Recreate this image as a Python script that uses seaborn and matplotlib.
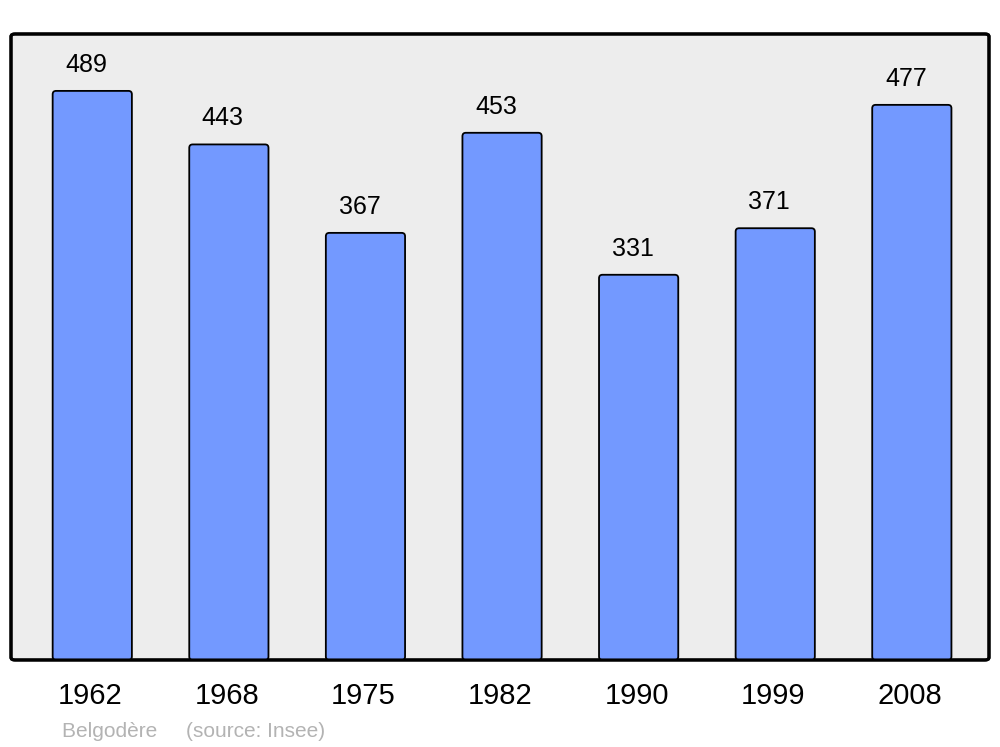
import numpy as np
import pandas as pd
import matplotlib
matplotlib.use('Agg')
import matplotlib.pyplot as plt
import matplotlib.transforms as mtransforms
import seaborn as sns
from matplotlib.patches import FancyBboxPatch

years = ['1962', '1968', '1975', '1982', '1990', '1999', '2008']
population = [489, 443, 367, 453, 331, 371, 477]

df = pd.DataFrame({'Year': years, 'Population': population})

sns.set_style('white')
plt.rcParams['font.family'] = ['Liberation Sans', 'DejaVu Sans']
plt.rcParams['text.color'] = 'black'
plt.rcParams['xtick.color'] = 'black'

fig = plt.figure(figsize=(10, 7.47), dpi=100)
ax = fig.add_axes([0.011, 0.1165, 0.978, 0.838])

sns.barplot(data=df, x='Year', y='Population', color='#7399ff', width=0.58,
            edgecolor='black', linewidth=1.3, saturation=1, ax=ax, zorder=2)

ax.set_ylim(0, max(population) * 1.1)
ax.set_xlim(-0.595, 6.565)
ax.set_facecolor('none')
for s in ax.spines.values():
    s.set_visible(False)

# background frame with rounded corners
frame = FancyBboxPatch((0, 0), 1, 1, boxstyle='round,pad=0,rounding_size=0.004',
                       transform=ax.transAxes, facecolor='#ededed', edgecolor='black',
                       linewidth=2.2, zorder=0, clip_on=False)
ax.add_patch(frame)
frame_top = FancyBboxPatch((0, 0), 1, 1, boxstyle='round,pad=0,rounding_size=0.004',
                           transform=ax.transAxes, facecolor='none', edgecolor='black',
                           linewidth=2.2, zorder=5, clip_on=False)
ax.add_patch(frame_top)

# round top corners of the bars
fig.canvas.draw()
bbox = ax.get_window_extent()
xr = ax.get_xlim()[1] - ax.get_xlim()[0]
yr = ax.get_ylim()[1] - ax.get_ylim()[0]
aspect = (yr / bbox.height) / (xr / bbox.width)
for p in list(ax.patches):
    if p in (frame, frame_top):
        continue
    x, y, w, h = p.get_x(), p.get_y(), p.get_width(), p.get_height()
    rb = FancyBboxPatch((x, y), w, h, boxstyle='round,pad=0,rounding_size=0.025',
                        mutation_aspect=aspect, facecolor=p.get_facecolor(),
                        edgecolor='black', linewidth=1.3, zorder=2)
    p.remove()
    ax.add_patch(rb)

for i, v in enumerate(population):
    ax.annotate(str(v), (i, v), xytext=(-6, 26), textcoords='offset pixels',
                ha='center', va='center', fontsize=18, color='black')

ax.set_xlabel('')
ax.set_ylabel('')
ax.set_yticks([])
ax.tick_params(axis='x', length=0, pad=16, labelsize=21, labelcolor='black')
shift = mtransforms.ScaledTranslation(-2 / 100, 0, fig.dpi_scale_trans)
for t in ax.get_xticklabels():
    t.set_transform(t.get_transform() + shift)

fig.text(0.062, 0.021, 'Belgodère     (source: Insee)', color='#b3b3b3', fontsize=15,
         ha='left', va='center')

fig.savefig('out.png', dpi=100, facecolor='white')
